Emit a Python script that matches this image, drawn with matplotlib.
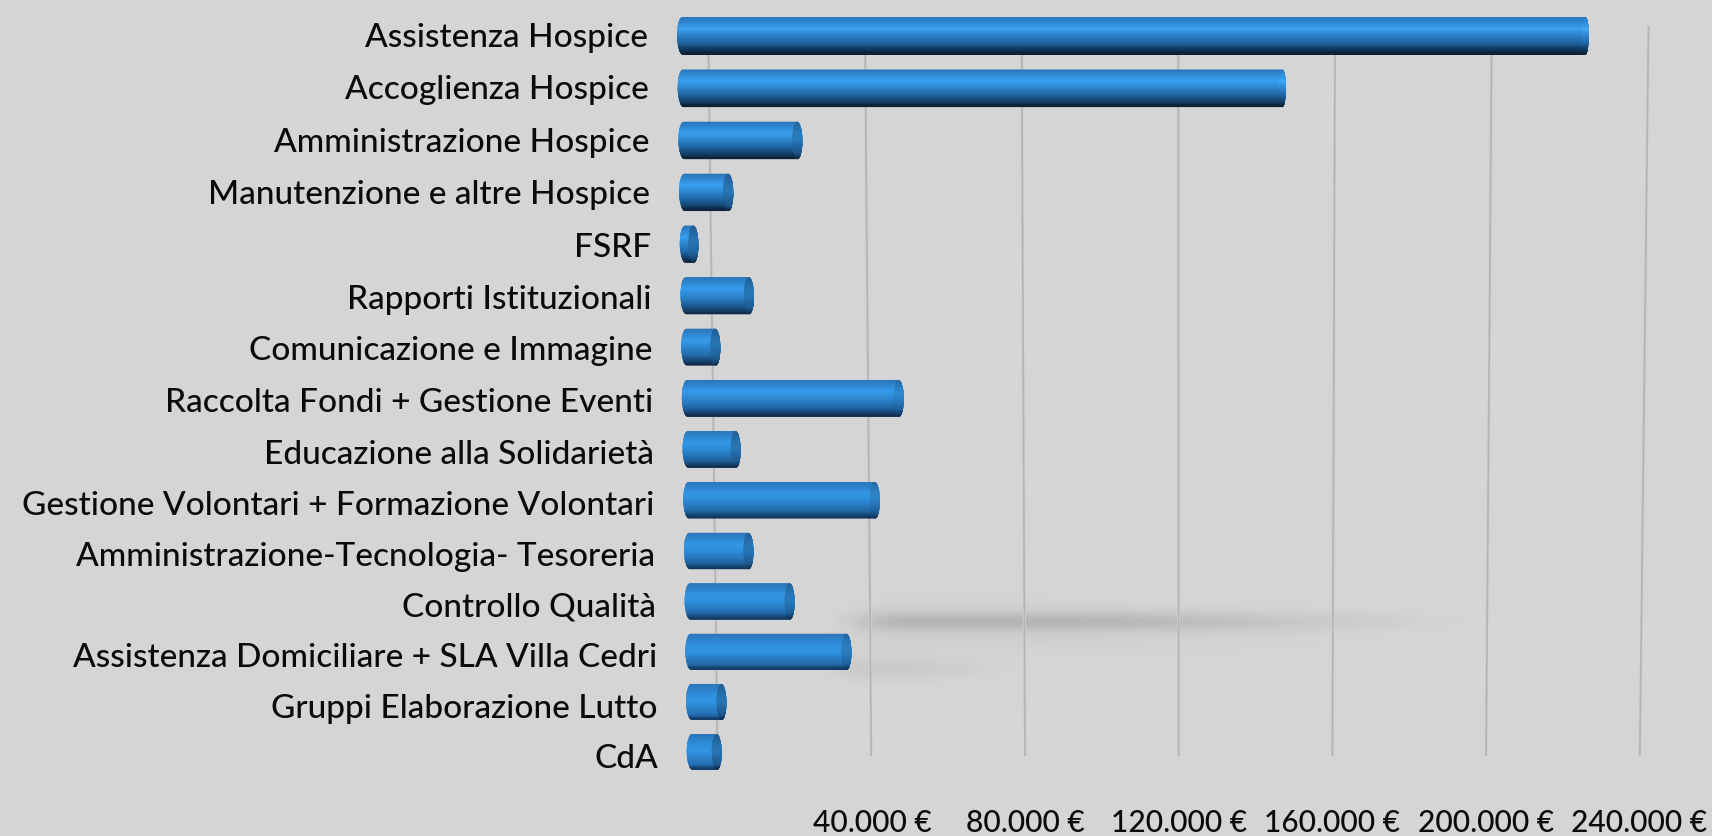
import numpy as np
import matplotlib
matplotlib.use("Agg")
import matplotlib.pyplot as plt
from matplotlib.path import Path
from matplotlib.patches import PathPatch
from matplotlib.transforms import Transform

categories = ["Assistenza Hospice", "Accoglienza Hospice", "Amministrazione Hospice",
              "Manutenzione e altre Hospice", "FSRF", "Rapporti Istituzionali",
              "Comunicazione e Immagine", "Raccolta Fondi + Gestione Eventi",
              "Educazione alla Solidarietà", "Gestione Volontari + Formazione Volontari",
              "Amministrazione-Tecnologia- Tesoreria", "Controllo Qualità",
              "Assistenza Domiciliare + SLA Villa Cedri", "Gruppi Elaborazione Lutto", "CdA"]
values = [232800, 155500, 31750, 13900, 4800, 18900, 10100, 57200,
          15000, 50800, 18000, 28500, 43100, 10500, 9100]
grid_ticks = [0, 40000, 80000, 120000, 160000, 200000, 240000]
tick_labels = ["", "40.000 €", "80.000 €", "120.000 €", "160.000 €", "200.000 €", "240.000 €"]

W, H = 1712, 837
PX = 0.00388          # px per euro
DEPTH = 8000          # grid plane sits behind the bars
BAR_H = 0.72
plt.rcParams['font.family'] = ['Lato', 'DejaVu Sans']


class Perspective(Transform):
    """Slight skew / foreshortening of the value-rank plane."""
    input_dims = output_dims = 2

    def transform_non_affine(self, xy):
        xy = np.asarray(xy, float)
        x, r = xy[:, 0], xy[:, 1]
        return np.column_stack([x * (1 - 0.00136 * (r - 7)) + 180 * r,
                                r - 0.00176 * r * (r - 14)])


fig = plt.figure(figsize=(W / 100, H / 100), dpi=100, facecolor='#d5d5d5')
ax = fig.add_axes([0, 0, 1, 1])
ax.set_facecolor('#d5d5d5')
ax.axis('off')
xlim = (-677 / PX, (W - 677) / PX)
ylim = ((H - 37) / 51.14, -37 / 51.14)
T = Perspective() + ax.transData


def ramp(v):
    v = np.clip(v, 0, 1)
    return v * v * (3 - 2 * v)


# soft floor shadows
yy, xx = np.mgrid[0:H, 0:W]
a1 = 0.125 * np.exp(-((yy - 622) / 9.5) ** 2) * ramp((xx - 822) / 90) * ramp((1520 - xx) / 480)
a1 += 0.03 * np.exp(-((yy - 628) / 24.0) ** 2) * ramp((xx - 810) / 80) * ramp((1480 - xx) / 500)
a2 = 0.055 * np.exp(-((yy - 669) / 11.0) ** 2) * ramp((xx - 815) / 50) * ramp((1040 - xx) / 170)
rgba = np.zeros((H, W, 4))
rgba[..., 3] = a1 + a2
ax.imshow(rgba, extent=(xlim[0], xlim[1], ylim[0], ylim[1]), aspect='auto', origin='upper', zorder=1)

# grid planes
for t in grid_ticks:
    ax.plot([t + DEPTH] * 2, [-0.2, 14.08], transform=T, color='#d0d0d0', lw=2.4, zorder=2,
            solid_capstyle='butt')
    ax.plot([t + DEPTH] * 2, [-0.2, 14.08], transform=T, color='#b4b4b4', lw=1.2, zorder=2.1,
            solid_capstyle='butt')

POS = [0, .15, .33, .5, .68, .85, 1]
TOP = ['#2b74b5', '#2e85d0', '#3aa2f2', '#2c82c8', '#1f66a4', '#123f68', '#0b1c2e']
BOT = ['#2b74b5', '#2c80c8', '#2f8fdc', '#3094e2', '#2b82cc', '#2470b4', '#123a64']
to_rgb = matplotlib.colors.to_rgb
TOP_C, BOT_C = np.array([to_rgb(c) for c in TOP]), np.array([to_rgb(c) for c in BOT])


def shade(f, k):
    cols = (1 - k) * TOP_C + k * BOT_C
    return np.array([float(np.interp(f, POS, cols[:, j])) for j in range(3)])


C = 0.5523


def end_path(x0, x1, r, rx0, rx1, h):
    """Barrel outline with elliptical ends."""
    t, b = r - h / 2, r + h / 2
    m = (
        [(x0 + rx0, t), (x1 - rx1, t),
         (x1 - rx1 + C * rx1, t), (x1, r - C * h / 2), (x1, r),
         (x1, r + C * h / 2), (x1 - rx1 + C * rx1, b), (x1 - rx1, b),
         (x0 + rx0, b),
         (x0 + rx0 - C * rx0, b), (x0, r + C * h / 2), (x0, r),
         (x0, r - C * h / 2), (x0 + rx0 - C * rx0, t), (x0 + rx0, t)])
    codes = [Path.MOVETO, Path.LINETO] + [Path.CURVE4] * 6 + [Path.LINETO] + [Path.CURVE4] * 6
    return Path(m, codes)


N = 40
for r, v in enumerate(values):
    k = min(1.0, r / 13) ** 1.2
    rx = 5.5 / PX
    cap_rx = (3.5 if v > 100000 else 5.0) / PX
    clip = PathPatch(end_path(0, v, r, rx, cap_rx, BAR_H), transform=T, fc='none', ec='none', zorder=3)
    ax.add_patch(clip)
    for i in range(N):
        f = (i + .5) / N
        y = r - BAR_H / 2 + BAR_H * f
        p = ax.barh(y, v, height=BAR_H / N * 1.6, left=0, color=[shade(f, k)], transform=T,
                    zorder=3.2, antialiased=False, linewidth=0)[0]
        p.set_clip_path(clip)
    # end cap
    capc = PathPatch(end_path(v - 2 * cap_rx, v, r, cap_rx, cap_rx, BAR_H), transform=T, fc='none', ec='none', zorder=3.4)
    ax.add_patch(capc)
    blend = min(1.0, v / 90000) ** 1.5
    for i in range(N):
        f = (i + .5) / N
        base = shade(f, k)
        cap = shade(f, 1) * 0.78
        c = blend * base * 1.04 + (1 - blend) * cap
        y = r - BAR_H / 2 + BAR_H * f
        p = ax.barh(y, 2 * cap_rx, height=BAR_H / N * 1.6, left=v - 2 * cap_rx, color=[np.clip(c, 0, 1)],
                    transform=T, zorder=3.5, antialiased=False, linewidth=0)[0]
        p.set_clip_path(capc)

for r, name in enumerate(categories):
    ax.text(-7400, r + 0.186 + 0.0088 * r, name, transform=T, ha='right', va='baseline', fontsize=24,
            fontweight='medium', color='#0a0a0a', zorder=5)

for t, lab in zip(grid_ticks, tick_labels):
    if lab:
        ax.text(t + DEPTH, 15.4, lab, transform=T, ha='center', va='center', fontsize=21.5,
                fontweight='medium', color='#0a0a0a', zorder=5)

ax.set_xlim(*xlim)
ax.set_ylim(*ylim)
fig.savefig('out.png', dpi=100, facecolor=fig.get_facecolor())
